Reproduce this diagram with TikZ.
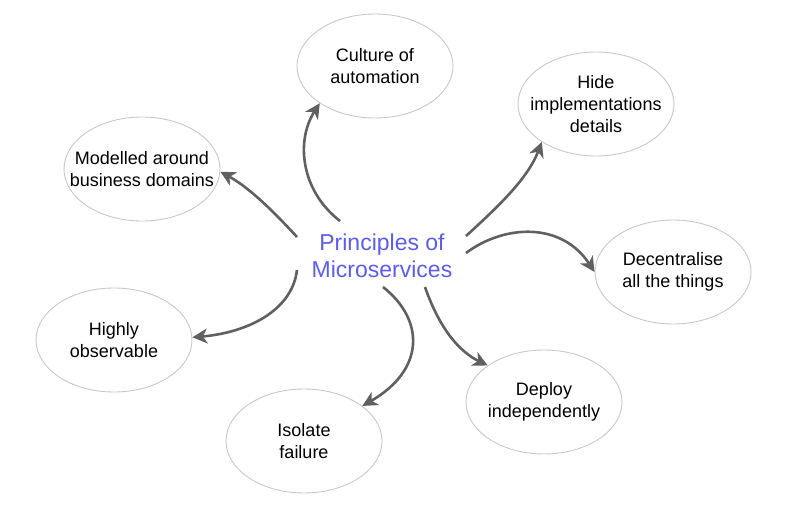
\documentclass[tikz,border=0pt]{standalone}
\usepackage{fontspec}
\setmainfont{Liberation Sans}
\usetikzlibrary{arrows.meta,shapes.geometric}
\definecolor{bordergray}{RGB}{200,200,200}
\definecolor{arrowgray}{RGB}{96,96,96}
\definecolor{centerblue}{RGB}{92,92,240}
\tikzset{
  topic/.style={ellipse, draw=bordergray, line width=0.9pt, minimum width=156pt, minimum height=104pt, inner sep=0pt,
    label={[align=center, font=\fontsize{18pt}{22pt}\selectfont, text=black, inner sep=0pt]center:#1}},
  hub/.style={align=center, font=\fontsize{23pt}{27pt}\selectfont, text=centerblue, inner sep=0pt},
  arr/.style={draw=arrowgray, line width=2.6pt, -{Stealth[length=15pt,width=15pt,inset=4.5pt]}}
}
\begin{document}
\begin{tikzpicture}[x=1pt,y=-1pt]
\useasboundingbox (0,0) rectangle (788,506);
\node[hub] (c) at (382,256) {Principles of\\Microservices};
\node[topic={Culture of\\automation}] (cult) at (375,66) {};
\node[topic={Hide\\implementations\\details}] (hide) at (596,104) {};
\node[topic={Modelled around\\business domains}] (mod) at (142,169) {};
\node[topic={Decentralise\\all the things}] (dec) at (673,272) {};
\node[topic={Highly\\observable}] (obs) at (114,340) {};
\node[topic={Deploy\\independently}] (dep) at (544,402) {};
\node[topic={Isolate\\failure}] (iso) at (304,441) {};
\coordinate (s1) at (340,221);
\coordinate (s2) at (297,237);
\coordinate (s3) at (466,236);
\coordinate (s4) at (466,253);
\coordinate (s5) at (425,287);
\coordinate (s6) at (383,287);
\coordinate (s7) at (297,270);
\draw[arr] (s1) .. controls (300,190) and (296,140) .. (cult.214);
\draw[arr] (s2) .. controls (275,213) and (250,188) .. (mod.-2);
\draw[arr] (s3) .. controls (500,205) and (528,178) .. (hide.215);
\draw[arr] (s4) .. controls (505,224) and (562,222) .. (dec.180);
\draw[arr] (s5) .. controls (440,330) and (460,352) .. (dep.147);
\draw[arr] (s6) .. controls (425,320) and (425,370) .. (iso.31);
\draw[arr] (s7) .. controls (292,312) and (245,333) .. (obs.2);
\end{tikzpicture}
\end{document}
